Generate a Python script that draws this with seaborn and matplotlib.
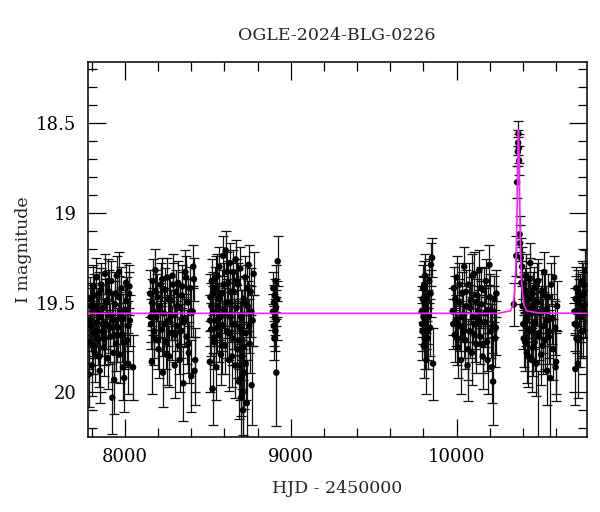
import pandas as pd
import matplotlib
matplotlib.use("Agg")
import matplotlib.pyplot as plt
import seaborn as sns
from matplotlib.ticker import MultipleLocator

t1 = [7786, 7791, 7795, 7800, 7804, 7809, 7813, 7818, 7823, 7828, 7833, 7838, 7843, 7848, 7853, 7858,
      7864, 7869, 7874, 7880, 7885, 7891, 7896, 7902, 7907, 7913, 7918, 7924, 7929, 7935, 7940, 7946,
      7951, 7957, 7962, 7968, 7973, 7979, 7985, 7990, 7996, 8001, 8007, 8013, 8019, 8025, 8030, 8049]
m1 = [19.72, 19.48, 19.63, 19.85, 19.55, 19.41, 19.67, 19.78, 19.52, 19.36, 19.61, 19.70, 19.45, 19.88,
      19.58, 19.40, 19.66, 19.53, 19.75, 19.34, 19.62, 19.49, 19.81, 19.57, 19.44, 19.69, 19.38, 20.03,
      19.60, 19.93, 19.51, 19.73, 19.35, 19.64, 19.47, 19.79, 19.56, 19.42, 19.68, 19.59, 19.92, 19.54,
      19.39, 19.71, 19.84, 19.45, 19.60, 19.86]
e1 = [0.15, 0.12, 0.14, 0.17, 0.13, 0.12, 0.14, 0.16, 0.13, 0.11, 0.14, 0.15, 0.12, 0.18, 0.13, 0.12,
      0.14, 0.13, 0.16, 0.11, 0.14, 0.12, 0.17, 0.13, 0.12, 0.15, 0.11, 0.20, 0.14, 0.19, 0.13, 0.15,
      0.11, 0.14, 0.12, 0.16, 0.13, 0.12, 0.15, 0.14, 0.19, 0.13, 0.11, 0.15, 0.17, 0.12, 0.14, 0.18]
t1b = [7788, 7797, 7806, 7815, 7826, 7836, 7846, 7856, 7866, 7877, 7888, 7899, 7910, 7921, 7932, 7943,
       7954, 7965, 7976, 7988, 7999, 8010, 8021, 8027, 7783]
m1b = [19.60, 19.52, 19.74, 19.46, 19.66, 19.55, 19.80, 19.43, 19.62, 19.70, 19.50, 19.38, 19.64, 19.57,
       19.78, 19.45, 19.68, 19.33, 19.59, 19.86, 19.72, 19.49, 19.63, 19.41, 19.90]
e1b = [0.14, 0.13, 0.16, 0.12, 0.15, 0.13, 0.17, 0.12, 0.14, 0.15, 0.13, 0.12, 0.14, 0.13, 0.16, 0.12,
       0.15, 0.11, 0.14, 0.18, 0.15, 0.13, 0.14, 0.12, 0.18]

t2 = [8152, 8157, 8162, 8167, 8172, 8178, 8184, 8190, 8196, 8203, 8209, 8216, 8222, 8229, 8235, 8242,
      8248, 8255, 8261, 8268, 8274, 8281, 8287, 8294, 8300, 8307, 8313, 8320, 8326, 8333, 8339, 8346,
      8352, 8359, 8365, 8372, 8378, 8385, 8392, 8400, 8408, 8416, 8424]
m2 = [19.45, 19.62, 19.83, 19.38, 19.55, 19.70, 19.32, 19.58, 19.47, 19.76, 19.52, 19.40, 19.65, 19.89,
      19.56, 19.43, 19.72, 19.36, 19.60, 19.80, 19.49, 19.67, 19.35, 19.57, 19.85, 19.44, 19.63, 19.39,
      19.74, 19.53, 19.66, 19.41, 19.95, 19.59, 19.33, 19.69, 19.50, 19.78, 19.42, 19.91, 19.55, 19.37,
      19.82]
e2 = [0.13, 0.14, 0.18, 0.12, 0.13, 0.15, 0.12, 0.14, 0.13, 0.16, 0.13, 0.12, 0.15, 0.19, 0.14, 0.12,
      0.15, 0.11, 0.14, 0.17, 0.13, 0.15, 0.12, 0.14, 0.18, 0.12, 0.14, 0.12, 0.16, 0.13, 0.15, 0.12,
      0.21, 0.14, 0.12, 0.15, 0.13, 0.17, 0.12, 0.20, 0.14, 0.12, 0.18]
t2b = [8155, 8165, 8175, 8187, 8199, 8212, 8225, 8238, 8251, 8264, 8277, 8290, 8303, 8316, 8330, 8343,
       8356, 8369, 8382, 8396, 8412, 8420]
m2b = [19.58, 19.50, 19.66, 19.44, 19.71, 19.55, 19.37, 19.62, 19.79, 19.48, 19.57, 19.40, 19.68, 19.52,
       19.82, 19.46, 19.61, 19.36, 19.73, 19.55, 19.30, 19.88]
e2b = [0.14, 0.13, 0.15, 0.12, 0.16, 0.14, 0.12, 0.15, 0.17, 0.13, 0.14, 0.12, 0.15, 0.13, 0.18, 0.13,
       0.14, 0.12, 0.16, 0.14, 0.12, 0.19]

t3 = [8512, 8516, 8520, 8524, 8529, 8533, 8538, 8542, 8547, 8551, 8556, 8560, 8565, 8569, 8574, 8579,
      8583, 8588, 8593, 8598, 8603, 8608, 8613, 8618, 8623, 8628, 8633, 8638, 8643, 8648, 8653, 8658,
      8663, 8668, 8673, 8678, 8683, 8688, 8692, 8696, 8700, 8704, 8708, 8712, 8716, 8720, 8725, 8730,
      8735, 8740, 8746, 8752, 8758, 8764, 8770, 8776]
m3 = [19.83, 19.47, 19.65, 19.38, 19.98, 19.55, 19.72, 19.42, 19.60, 19.86, 19.35, 19.52, 19.68, 19.30,
      19.57, 19.79, 19.45, 19.63, 19.24, 19.54, 19.74, 19.21, 19.50, 19.66, 19.39, 19.82, 19.28, 19.58,
      19.44, 19.70, 19.33, 19.62, 19.85, 19.26, 19.53, 19.76, 19.40, 19.94, 19.64, 19.31, 20.03, 19.57,
      19.80, 20.10, 19.48, 19.89, 19.36, 19.67, 20.06, 19.52, 19.29, 19.73, 19.44, 19.96, 19.60, 19.34]
e3 = [0.17, 0.13, 0.15, 0.12, 0.20, 0.14, 0.15, 0.12, 0.14, 0.18, 0.12, 0.13, 0.15, 0.11, 0.14, 0.17,
      0.13, 0.14, 0.11, 0.13, 0.16, 0.11, 0.13, 0.15, 0.12, 0.17, 0.11, 0.14, 0.12, 0.15, 0.12, 0.14,
      0.18, 0.11, 0.13, 0.16, 0.12, 0.21, 0.15, 0.12, 0.23, 0.14, 0.18, 0.25, 0.13, 0.20, 0.12, 0.15,
      0.24, 0.14, 0.11, 0.16, 0.13, 0.22, 0.14, 0.12]
t3b = [8514, 8522, 8531, 8540, 8549, 8558, 8567, 8576, 8586, 8596, 8606, 8616, 8626, 8636, 8646, 8656,
       8666, 8676, 8686, 8694, 8698, 8702, 8706, 8710, 8714, 8718, 8728, 8738, 8750, 8762]
m3b = [19.60, 19.52, 19.45, 19.70, 19.36, 19.64, 19.48, 19.58, 19.74, 19.40, 19.56, 19.33, 19.67, 19.50,
       19.80, 19.44, 19.62, 19.38, 19.71, 19.85, 19.58, 19.92, 19.66, 20.00, 19.75, 19.50, 19.84, 19.42,
       19.63, 19.55]
e3b = [0.14, 0.13, 0.12, 0.15, 0.12, 0.14, 0.13, 0.14, 0.16, 0.12, 0.14, 0.11, 0.15, 0.13, 0.17, 0.12,
       0.14, 0.12, 0.16, 0.19, 0.15, 0.21, 0.16, 0.24, 0.18, 0.14, 0.20, 0.13, 0.15, 0.14]

t4 = [8893, 8895, 8897, 8899, 8901, 8903, 8905, 8907, 8909, 8911, 8913, 8915, 8918, 8921]
m4 = [19.55, 19.42, 19.63, 19.50, 19.70, 19.46, 19.58, 19.66, 19.38, 19.53, 19.89, 19.60, 19.48, 19.27]
e4 = [0.10, 0.09, 0.11, 0.10, 0.12, 0.09, 0.10, 0.11, 0.09, 0.10, 0.30, 0.11, 0.10, 0.14]

t5 = [9790, 9794, 9798, 9802, 9806, 9810, 9814, 9818, 9822, 9826, 9830, 9835, 9840, 9846, 9852, 9858,
      9792, 9796, 9800, 9804, 9808, 9816, 9824, 9843]
m5 = [19.55, 19.66, 19.42, 19.74, 19.50, 19.35, 19.61, 19.82, 19.47, 19.70, 19.58, 19.38, 19.64, 19.29,
      19.25, 19.84, 19.62, 19.48, 19.58, 19.40, 19.70, 19.53, 19.66, 19.45]
e5 = [0.14, 0.16, 0.13, 0.18, 0.14, 0.12, 0.15, 0.19, 0.13, 0.17, 0.15, 0.12, 0.16, 0.12, 0.11, 0.20,
      0.15, 0.13, 0.15, 0.13, 0.17, 0.14, 0.16, 0.13]

t6 = [9977, 9983, 9989, 9995, 10001, 10008, 10014, 10020, 10027, 10033, 10040, 10046, 10053, 10059,
      10066, 10072, 10079, 10085, 10092, 10098, 10105, 10111, 10118, 10124, 10131, 10137, 10144, 10150,
      10157, 10163, 10170, 10177, 10184, 10191, 10198, 10205, 10212, 10220, 10228, 10236]
m6 = [19.55, 19.42, 19.68, 19.60, 19.36, 19.75, 19.50, 19.63, 19.82, 19.45, 19.57, 19.30, 19.71, 19.52,
      19.85, 19.40, 19.66, 19.49, 19.78, 19.58, 19.34, 19.62, 19.73, 19.46, 19.55, 19.32, 19.69, 19.51,
      19.80, 19.43, 19.61, 19.38, 19.72, 19.54, 19.29, 19.66, 19.86, 19.94, 19.48, 19.64]
e6 = [0.13, 0.12, 0.15, 0.14, 0.12, 0.17, 0.13, 0.14, 0.19, 0.12, 0.14, 0.11, 0.16, 0.13, 0.20, 0.12,
      0.15, 0.13, 0.18, 0.14, 0.12, 0.14, 0.16, 0.13, 0.14, 0.11, 0.15, 0.13, 0.18, 0.12, 0.14, 0.12,
      0.16, 0.13, 0.11, 0.15, 0.20, 0.24, 0.13, 0.15]
t6b = [9980, 9992, 10004, 10017, 10030, 10043, 10056, 10069, 10082, 10095, 10108, 10121, 10134, 10147,
       10160, 10174, 10187, 10201, 10216, 10224, 10232, 10240]
m6b = [19.62, 19.48, 19.70, 19.40, 19.58, 19.66, 19.44, 19.76, 19.53, 19.35, 19.68, 19.50, 19.60, 19.42,
       19.73, 19.56, 19.82, 19.47, 19.63, 19.55, 19.70, 19.45]
e6b = [0.14, 0.13, 0.15, 0.12, 0.14, 0.15, 0.12, 0.17, 0.13, 0.12, 0.15, 0.13, 0.14, 0.12, 0.16, 0.14,
       0.19, 0.13, 0.15, 0.14, 0.16, 0.13]

# event season (peak near HJD' 10373)
t7 = [10345, 10360, 10365, 10369, 10371, 10373, 10375, 10377, 10380, 10383, 10387, 10391, 10395, 10402,
      10408, 10414, 10420, 10426, 10432, 10438, 10444, 10450, 10456, 10462, 10468, 10474, 10480, 10486,
      10492, 10498, 10504, 10510, 10516, 10522, 10528, 10534, 10540, 10546, 10552, 10558, 10564, 10570,
      10576, 10582, 10588, 10594, 10600, 10606, 10490]
m7 = [19.51, 19.24, 18.83, 18.66, 18.61, 18.56, 18.64, 18.71, 19.12, 19.17, 19.25, 19.39, 19.30, 19.62,
      19.45, 19.72, 19.35, 19.58, 19.80, 19.48, 19.28, 19.66, 19.53, 19.75, 19.42, 19.61, 19.84, 19.50,
      19.38, 19.69, 19.56, 19.79, 19.44, 19.63, 19.33, 19.71, 19.54, 19.88, 19.47, 19.66, 19.92, 19.40,
      19.59, 19.76, 19.36, 19.64, 19.83, 19.52, 20.33]
e7 = [0.12, 0.11, 0.09, 0.08, 0.07, 0.07, 0.08, 0.08, 0.10, 0.10, 0.11, 0.12, 0.11, 0.14, 0.12, 0.16,
      0.12, 0.14, 0.17, 0.13, 0.11, 0.15, 0.13, 0.16, 0.12, 0.14, 0.18, 0.13, 0.12, 0.15, 0.14, 0.17,
      0.12, 0.15, 0.11, 0.16, 0.13, 0.19, 0.13, 0.15, 0.35, 0.12, 0.14, 0.17, 0.12, 0.15, 0.18, 0.14,
      0.45]
t7b = [10398, 10405, 10411, 10417, 10423, 10429, 10435, 10441, 10447, 10453, 10459, 10465, 10471, 10477,
       10483, 10495, 10507, 10519, 10531, 10543, 10555, 10597]
m7b = [19.52, 19.70, 19.43, 19.60, 19.78, 19.48, 19.65, 19.37, 19.56, 19.82, 19.45, 19.62, 19.72, 19.50,
       19.40, 19.67, 19.55, 19.74, 19.46, 19.60, 19.69, 19.86]
e7b = [0.13, 0.16, 0.12, 0.14, 0.17, 0.13, 0.15, 0.12, 0.14, 0.18, 0.12, 0.14, 0.16, 0.13, 0.12, 0.15,
       0.14, 0.16, 0.12, 0.14, 0.15, 0.19]

t8 = [10711, 10716, 10721, 10726, 10731, 10736, 10741, 10746, 10751, 10756, 10761, 10766, 10771, 10776,
      10713, 10718, 10723, 10733, 10743, 10753, 10763, 10773]
m8 = [19.55, 19.87, 19.42, 19.63, 19.84, 19.50, 19.70, 19.46, 19.58, 19.38, 19.66, 19.52, 19.45, 19.32,
      19.62, 19.48, 19.70, 19.44, 19.58, 19.66, 19.40, 19.55]
e8 = [0.13, 0.20, 0.12, 0.15, 0.19, 0.13, 0.16, 0.12, 0.14, 0.11, 0.15, 0.13, 0.12, 0.11,
      0.15, 0.13, 0.16, 0.12, 0.14, 0.15, 0.12, 0.14]

# magenta model curve
model_t = [7775, 10250, 10325, 10340, 10350, 10355, 10360, 10364, 10367, 10370, 10373,
           10376, 10379, 10382, 10386, 10391, 10396, 10406, 10421, 10496, 10785]
model_m = [19.56, 19.56, 19.546, 19.514, 19.44, 19.36, 19.22, 19.03, 18.84, 18.64, 18.54,
           18.64, 18.84, 19.03, 19.22, 19.36, 19.44, 19.514, 19.546, 19.558, 19.56]

xtick_vals = [8000, 9000, 10000]
ytick_vals = [18.5, 19, 19.5, 20]
ytick_labels = ["18.5", "19", "19.5", "20"]

data = pd.DataFrame({
    "hjd": t1 + t1b + t2 + t2b + t3 + t3b + t4 + t5 + t6 + t6b + t7 + t7b + t8,
    "mag": m1 + m1b + m2 + m2b + m3 + m3b + m4 + m5 + m6 + m6b + m7 + m7b + m8,
    "err": e1 + e1b + e2 + e2b + e3 + e3b + e4 + e5 + e6 + e6b + e7 + e7b + e8,
})
model = pd.DataFrame({"hjd": model_t, "mag": model_m})

sns.set_style("ticks")
plt.rcParams["font.family"] = ["DejaVu Serif"]

fig = plt.figure(figsize=(6, 5.12), dpi=100)
ax = fig.add_axes([0.146, 0.146, 0.832, 0.733])

ax.errorbar(data["hjd"], data["mag"], yerr=data["err"], fmt="none", ecolor="#111111",
            elinewidth=0.9, capsize=3.5, capthick=0.9, zorder=2)
sns.scatterplot(data=data, x="hjd", y="mag", ax=ax, color="black", s=22,
                edgecolor="none", zorder=3)
sns.lineplot(data=model, x="hjd", y="mag", ax=ax, sort=False, estimator=None,
             color="#ff22ff", lw=1.2, zorder=4)

ax.set_xlim(7775, 10785)
ax.set_ylim(20.25, 18.16)
ax.set_xticks(xtick_vals)
ax.xaxis.set_minor_locator(MultipleLocator(200))
ax.set_yticks(ytick_vals, labels=ytick_labels)
ax.yaxis.set_minor_locator(MultipleLocator(0.1))
ax.tick_params(which="both", direction="in", top=True, right=True, width=0.9,
               labelsize=13, colors="black")
ax.tick_params(which="major", length=13, pad=8)
ax.tick_params(which="minor", length=6.5)
for sp in ax.spines.values():
    sp.set_linewidth(1.1)
    sp.set_color("black")

ax.set_title("OGLE-2024-BLG-0226", fontsize=12.5, pad=16)
ax.set_xlabel("HJD - 2450000", fontsize=12.5, labelpad=10)
ax.set_ylabel("I magnitude", fontsize=12.5, labelpad=3)

fig.savefig("out.png", dpi=100)
